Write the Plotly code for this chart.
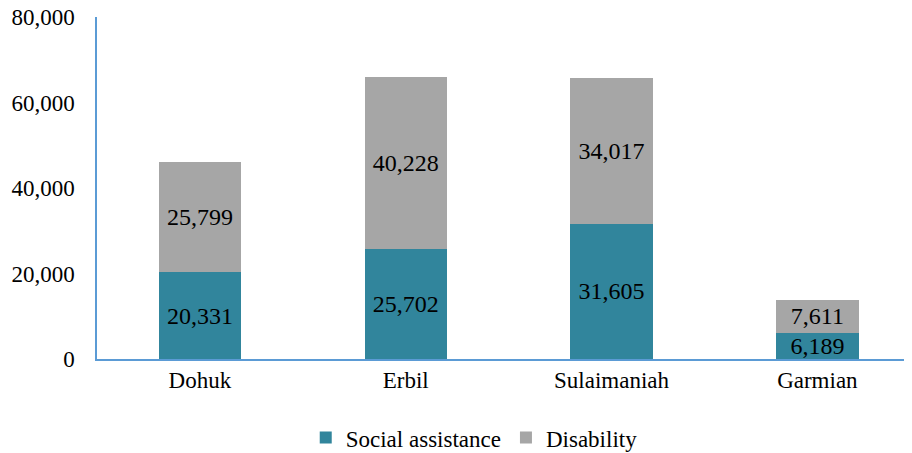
import plotly.graph_objects as go

regions = ["Dohuk", "Erbil", "Sulaimaniah", "Garmian"]
social_assistance = [20331, 25702, 31605, 6189]
disability = [25799, 40228, 34017, 7611]
y_ticks = [0, 20000, 40000, 60000, 80000]

font_family = "Liberation Serif, Times New Roman, serif"

fig = go.Figure()
fig.add_trace(go.Bar(
    x=regions, y=social_assistance, name="Social assistance",
    marker=dict(color="#31859C", line=dict(width=0)),
    text=[f"{v:,}" for v in social_assistance], textposition="inside",
    insidetextanchor="middle", constraintext="none", textangle=0,
    textfont=dict(size=24, color="black"),
))
fig.add_trace(go.Bar(
    x=regions, y=disability, name="Disability",
    marker=dict(color="#A6A6A6", line=dict(width=0)),
    text=[f"{v:,}" for v in disability], textposition="inside",
    insidetextanchor="middle", constraintext="none", textangle=0,
    textfont=dict(size=24, color="black"),
))

fig.update_layout(
    barmode="stack",
    bargap=0.6,
    width=904, height=445,
    margin=dict(l=89, r=2, t=9, b=94, autoexpand=False),
    plot_bgcolor="white", paper_bgcolor="white",
    font=dict(family=font_family, size=23, color="black"),
    xaxis=dict(range=[-0.5, 3.45], showline=True, linecolor="#5B9BD5", linewidth=1.5,
               ticks="", showgrid=False, tickfont=dict(size=23)),
    yaxis=dict(range=[0, 80000], tickvals=y_ticks, tickformat=",",
               showline=True, linecolor="#5B9BD5", linewidth=1.5,
               showgrid=False, ticks="", ticklen=0, tickfont=dict(size=23),
               ticklabelstandoff=16, ticklabeloverflow="allow",
               zeroline=False, automargin=False),
    legend=dict(orientation="h", x=0.464, xanchor="center", y=-0.23, yanchor="middle",
                font=dict(size=23), traceorder="normal", itemwidth=30),
    showlegend=True,
)

fig.write_html("out.html")
